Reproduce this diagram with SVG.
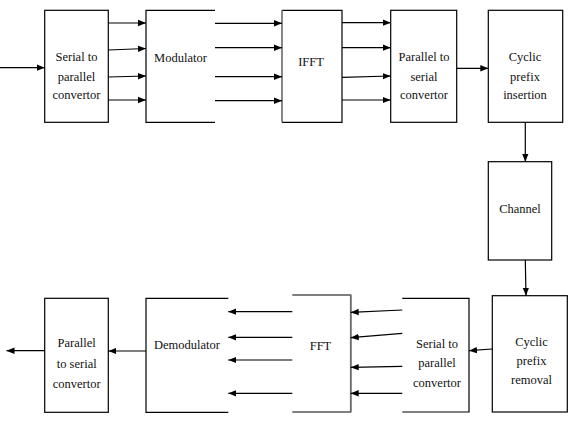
<svg xmlns="http://www.w3.org/2000/svg" width="569" height="428" viewBox="0 0 569 428">
  <defs>
    <marker id="ah" viewBox="0 0 8 8" refX="8" refY="4" markerWidth="8" markerHeight="8" markerUnits="userSpaceOnUse" orient="auto">
      <path d="M0,0.8 L8,4 L0,7.2 Z" fill="#000"/>
    </marker>
    <style>
      .box { fill: #fff; stroke: #000; stroke-width: 1.2; }
      .edge { fill: none; stroke: #000; stroke-width: 1.2; }
      .grey { stroke: #6a6a6a; stroke-width: 1.6; }
      .wire { fill: none; stroke: #000; stroke-width: 1.2; marker-end: url(#ah); }
      .lbl { font-family: "Liberation Serif", "Times New Roman", serif; font-size: 12.5px; fill: #111; text-anchor: middle; }
    </style>
  </defs>
  <rect width="569" height="428" fill="#fff"/>

  <!-- transmitter chain -->
  <g id="tx-s2p">
    <rect class="box" x="44.7" y="10.3" width="63.6" height="112"/>
    <text class="lbl" x="76.5" y="61">Serial to</text>
    <text class="lbl" x="76.5" y="81">parallel</text>
    <text class="lbl" x="76.5" y="99">convertor</text>
  </g>
  <g id="modulator">
    <path class="edge" d="M215,10.3 H146 V122.3 H215"/>
    <text class="lbl" x="180.5" y="62">Modulator</text>
  </g>
  <g id="ifft">
    <path class="edge" d="M282,10.3 H342 V122.3 H282"/>
    <line class="edge grey" x1="282" y1="10.3" x2="282" y2="122.3"/>
    <text class="lbl" x="311" y="66">IFFT</text>
  </g>
  <g id="tx-p2s">
    <rect class="box" x="390.7" y="10.3" width="66" height="112"/>
    <text class="lbl" x="424" y="61">Parallel to</text>
    <text class="lbl" x="424" y="81">serial</text>
    <text class="lbl" x="424" y="99">convertor</text>
  </g>
  <g id="cp-insert">
    <rect class="box" x="488.3" y="10.3" width="74.4" height="112"/>
    <text class="lbl" x="525" y="61">Cyclic</text>
    <text class="lbl" x="525" y="81">prefix</text>
    <text class="lbl" x="525" y="99">insertion</text>
  </g>
  <g id="channel">
    <rect class="box" x="488.3" y="161.7" width="63.4" height="98.3"/>
    <text class="lbl" x="520" y="213">Channel</text>
  </g>

  <!-- receiver chain -->
  <g id="cp-remove">
    <rect class="box" x="492.3" y="295.7" width="75" height="116.3"/>
    <text class="lbl" x="531.5" y="346">Cyclic</text>
    <text class="lbl" x="531.5" y="365">prefix</text>
    <text class="lbl" x="531.5" y="384">removal</text>
  </g>
  <g id="rx-s2p">
    <path class="edge" d="M402.3,298.3 H469 V412 H402.3"/>
    <text class="lbl" x="437" y="348">Serial to</text>
    <text class="lbl" x="437" y="367">parallel</text>
    <text class="lbl" x="437" y="387">convertor</text>
  </g>
  <g id="fft">
    <path class="edge" d="M292.3,295 H350.7 V412 H292.3"/>
    <line class="edge grey" x1="350.7" y1="295" x2="350.7" y2="412"/>
    <text class="lbl" x="320.5" y="349.5">FFT</text>
  </g>
  <g id="demodulator">
    <path class="edge" d="M228.3,298.3 H146 V412.3 H228.3"/>
    <text class="lbl" x="187" y="348.5">Demodulator</text>
  </g>
  <g id="rx-p2s">
    <rect class="box" x="44.7" y="298.3" width="63.6" height="114"/>
    <text class="lbl" x="76.7" y="347">Parallel</text>
    <text class="lbl" x="76.7" y="367.5">to serial</text>
    <text class="lbl" x="76.7" y="387.5">convertor</text>
  </g>

  <g id="connectors">
    <!-- input -->
    <line class="wire" x1="0" y1="67.7" x2="44.7" y2="67.7"/>
    <!-- serial-to-parallel to modulator -->
    <line class="wire" x1="108.3" y1="23" x2="146" y2="23"/>
    <line class="wire" x1="108.3" y1="50" x2="146" y2="48.5"/>
    <line class="wire" x1="108.3" y1="77" x2="146" y2="76"/>
    <line class="wire" x1="108.3" y1="100" x2="146" y2="100"/>
    <!-- modulator to IFFT -->
    <line class="wire" x1="215" y1="23.3" x2="282" y2="23.3"/>
    <line class="wire grey" x1="215" y1="47.7" x2="282" y2="47.7"/>
    <line class="wire grey" x1="215" y1="76.7" x2="282" y2="76.7"/>
    <line class="wire grey" x1="215" y1="100.7" x2="282" y2="100.7"/>
    <!-- IFFT to parallel-to-serial -->
    <line class="wire" x1="342" y1="22.7" x2="390.7" y2="22.7"/>
    <line class="wire" x1="342" y1="47.7" x2="390.7" y2="47.7"/>
    <line class="wire" x1="342" y1="77.3" x2="390.7" y2="76"/>
    <line class="wire" x1="342" y1="100" x2="390.7" y2="100"/>
    <!-- to cyclic prefix insertion -->
    <line class="wire grey" x1="456.7" y1="68.3" x2="488.3" y2="68.3"/>
    <!-- down through channel -->
    <line class="wire grey" x1="525.3" y1="122.3" x2="525.3" y2="161.7"/>
    <line class="wire" x1="525.3" y1="260" x2="526" y2="295.7"/>
    <!-- cyclic prefix removal to serial-to-parallel -->
    <line class="wire" x1="492.3" y1="349" x2="469" y2="350.7"/>
    <!-- serial-to-parallel to FFT -->
    <line class="wire" x1="402.3" y1="310" x2="350.7" y2="312.3"/>
    <line class="wire" x1="402.3" y1="333.3" x2="350.7" y2="337.7"/>
    <line class="wire" x1="402.3" y1="366.3" x2="350.7" y2="367.3"/>
    <line class="wire" x1="402.3" y1="393.3" x2="350.7" y2="393.3"/>
    <!-- FFT to demodulator -->
    <line class="wire" x1="292.3" y1="311.7" x2="228.3" y2="311.7"/>
    <line class="wire" x1="292.3" y1="337.3" x2="228.3" y2="337.3"/>
    <line class="wire" x1="292.3" y1="360" x2="228.3" y2="360"/>
    <line class="wire" x1="292.3" y1="393.3" x2="228.3" y2="393.3"/>
    <!-- demodulator to parallel-to-serial -->
    <line class="wire grey" x1="146" y1="351" x2="108.3" y2="351"/>
    <!-- output -->
    <line class="wire" x1="44.7" y1="350.7" x2="6.5" y2="350.7"/>
  </g>
</svg>
